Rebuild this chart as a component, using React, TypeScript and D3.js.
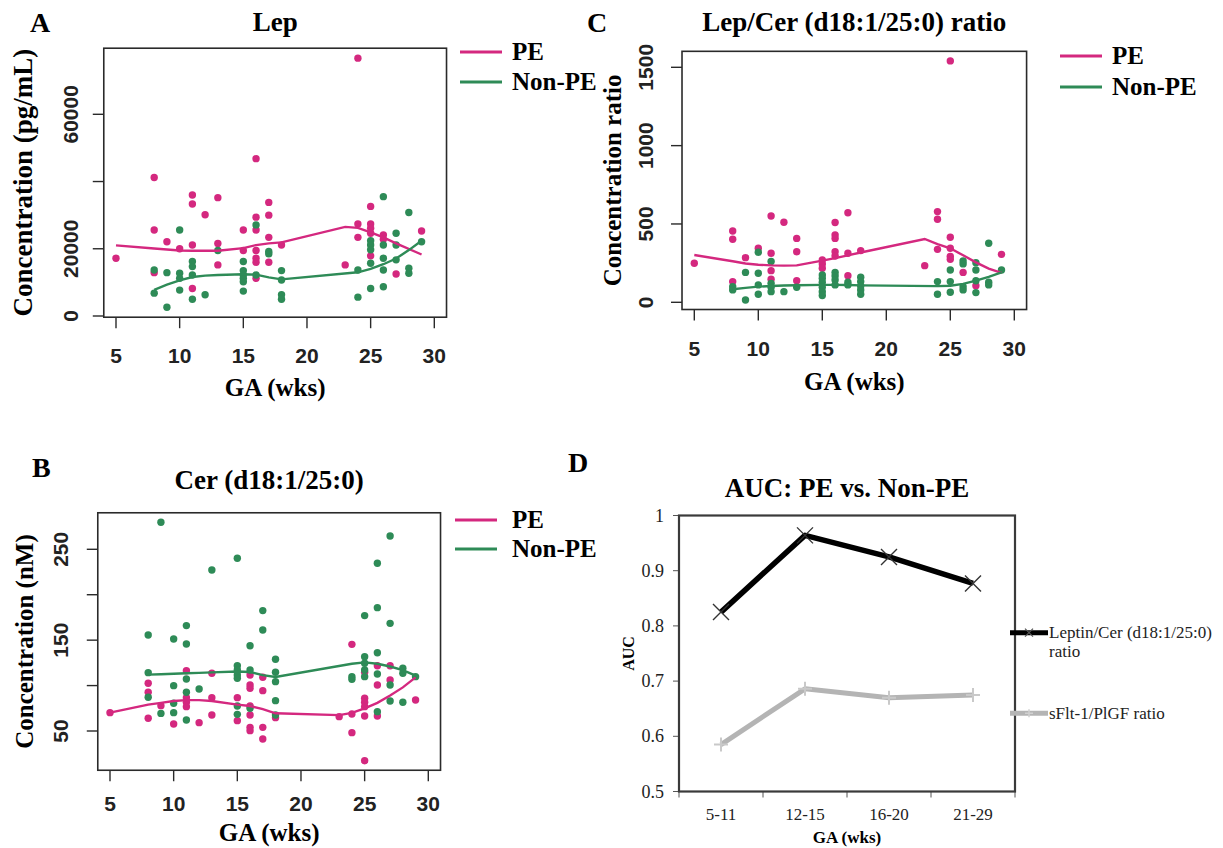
import React from 'react';
import * as d3 from 'd3';

type P = [number, number];

// ---------- DATA ----------
const gaTicks = [5, 10, 15, 20, 25, 30];

// Panel A: Lep (pg/mL)
const lepPE: P[] = [[5,17200],[8,41200],[8,25600],[8,12900],[9,22100],[10,20000],[11,36000],[11,33300],[11,21100],[11,8200],[12,30100],[13,35200],[13,21600],[13,15200],[15,25600],[15,19500],[16,46800],[16,29400],[16,25600],[16,19500],[16,17200],[16,16000],[16,11200],[17,33800],[17,30000],[17,23400],[17,16000],[18,21100],[23,15200],[24,76700],[24,27400],[24,23400],[25,32600],[25,27400],[25,26100],[25,24600],[25,17900],[26,24100],[26,22800],[27,12500],[29,25300]];
const lepNon: P[] = [[8,13700],[8,6800],[9,12900],[9,2600],[10,25600],[10,12700],[10,11200],[10,7700],[11,16200],[11,14700],[11,12200],[11,5000],[12,6300],[13,19500],[15,16200],[15,13500],[15,12200],[15,11200],[15,10200],[15,7400],[16,27100],[16,12200],[17,19200],[17,18500],[18,13500],[18,10700],[18,6300],[18,5000],[24,13700],[24,5600],[25,22400],[25,21100],[25,19700],[25,15700],[25,8200],[26,35500],[26,21100],[26,17200],[26,13700],[26,8700],[27,24600],[27,21100],[27,16700],[28,30800],[28,14200],[28,12700],[29,22100]];
const lepPEFit: P[] = [[5,21000],[8,20100],[10,19500],[11,19400],[13,19400],[15,20200],[16,21100],[17,21600],[18,21900],[23,26500],[24,26200],[25,24900],[26,23400],[27,21600],[29,18300]];
const lepNonFit: P[] = [[8,7800],[9,9300],[10,10600],[11,11600],[12,12000],[13,12200],[15,12400],[16,12300],[17,11500],[18,10900],[24,13000],[25,14000],[26,15400],[27,17100],[28,19600],[29,22400]];
const lepYTicks = [0, 20000, 40000, 60000];
const lepYLabels = ['0', '20000', '', '60000'];

// Panel B: Cer (d18:1/25:0) (nM)
const cerPE: P[] = [[5,70.2],[8,102.5],[8,92.6],[8,64],[9,77.9],[10,57.7],[11,116.4],[11,86.7],[11,81.6],[11,76.8],[12,59.2],[13,113.5],[13,86.7],[13,67.6],[15,86.7],[15,61.4],[16,111.7],[16,100.6],[16,97],[16,77.5],[16,67.6],[16,54],[16,50.4],[17,109.1],[17,94.4],[17,54],[17,41.2],[18,64.7],[23,65.8],[24,145.4],[24,68.7],[24,48.2],[25,114.6],[25,86],[25,81.6],[25,76.8],[25,66.5],[25,17.3],[26,121.9],[26,100.6],[26,66.5],[27,121.9],[27,106.1],[29,84.1]];
const cerNon: P[] = [[8,155.7],[8,114.2],[8,87.1],[9,279.7],[9,69.4],[10,151.3],[10,99.9],[10,80.5],[10,70.2],[11,166],[11,145.8],[11,107.2],[11,92.6],[11,62.1],[12,96.2],[13,227.2],[15,240.1],[15,121.9],[15,117.2],[15,111.7],[15,108],[15,77.5],[15,68.3],[16,143.9],[16,117.2],[16,75],[17,182.5],[17,161.2],[18,128.9],[18,114.6],[18,104.3],[18,83.4],[18,67.6],[24,109.8],[24,106.9],[25,177],[25,131.8],[25,124.5],[25,117.2],[25,109.8],[26,234.6],[26,185.8],[26,136.2],[26,112.8],[26,71.3],[27,264.7],[27,168.5],[27,100.6],[27,83],[28,119],[28,113.5],[28,81.6],[29,109.8]];
const cerPEFit: P[] = [[5,70.2],[8,79],[9,81],[10,83],[11,84],[12,84],[13,83],[15,79],[16,77.5],[17,74],[18,69.5],[23,67.5],[24,70],[25,75],[26,81],[27,89],[28,98],[29,109]];
const cerNonFit: P[] = [[8,112],[9,112.5],[10,113],[11,113.5],[12,114],[13,114.5],[15,115.5],[16,115],[17,111.5],[18,109.5],[24,124],[25,125.5],[26,124],[27,121],[28,117],[29,111]];
const cerYTicks = [50, 100, 150, 200, 250];
const cerYLabels = ['50', '', '150', '', '250'];

// Panel C: Lep/Cer ratio
const ratioPE: P[] = [[5,249],[8,455],[8,402],[8,132],[9,285],[10,345],[11,551],[11,313],[11,202],[11,147],[12,511],[13,408],[13,323],[13,138],[15,270],[15,245],[15,217],[16,509],[16,430],[16,408],[16,323],[16,296],[17,572],[17,313],[17,170],[18,330],[23,234],[24,579],[24,530],[24,338],[25,1541],[25,415],[25,345],[25,292],[25,274],[26,191],[27,106],[29,306]];
const ratioNon: P[] = [[8,100],[8,79],[9,191],[9,15],[10,319],[10,185],[10,111],[10,51],[11,260],[11,121],[11,96],[11,68],[12,68],[13,96],[15,174],[15,153],[15,128],[15,96],[15,68],[15,43],[16,191],[16,168],[16,143],[16,111],[17,128],[17,111],[18,160],[18,132],[18,104],[18,79],[18,51],[24,132],[24,51],[25,206],[25,132],[25,64],[26,264],[26,245],[26,100],[26,79],[27,253],[27,206],[27,138],[27,62],[28,377],[28,128],[28,111],[29,206]];
const ratioPEFit: P[] = [[5,302],[8,262],[9,248],[10,240],[11,236],[12,234],[13,236],[15,266],[16,282],[17,300],[18,318],[23,404],[24,372],[25,345],[26,300],[27,255],[28,215],[29,188]];
const ratioNonFit: P[] = [[8,83],[9,92],[10,100],[11,104],[12,107],[13,109],[15,111],[16,111],[17,110],[18,108],[24,103],[25,106],[26,118],[27,138],[28,162],[29,191]];
const ratioYTicks = [0, 500, 1000, 1500];
const ratioYLabels = ['0', '500', '1000', '1500'];

// Panel D: AUC
const gaGroups = ['5-11', '12-15', '16-20', '21-29'];
const aucLepCer = [0.825, 0.964, 0.925, 0.877];
const aucSflt = [0.585, 0.686, 0.67, 0.675];
const aucTicks = [0.5, 0.6, 0.7, 0.8, 0.9, 1];
const aucTickLabels = ['0.5', '0.6', '0.7', '0.8', '0.9', '1'];

// ---------- STYLE ----------
const PINK = '#d4287f';
const GREEN = '#2e8b57';
const SERIF = '"Liberation Serif", "Times New Roman", Times, serif';
const SANS = '"Liberation Sans", Arial, Helvetica, sans-serif';
const AX = '#2a2a2a';

interface ScatterProps {
  letter: string; letterX: number; letterY: number;
  title: string; titleY: number;
  xr: [number, number];
  yd: [number, number]; yr: [number, number]; yBox: [number, number];
  yTicks: number[]; yLabels: string[];
  yTickLabelX: number; yTitle: string; yTitleX: number; yTitleSize: number;
  xTickLabelY: number; xTitleY: number;
  legX: number; legTextX: number; legY1: number; legY2: number;
  pe: P[]; non: P[]; peFit: P[]; nonFit: P[];
}

function Scatter(p: ScatterProps) {
  const x = d3.scaleLinear().domain([5, 30]).range(p.xr);
  const y = d3.scaleLinear().domain(p.yd).range(p.yr);
  const x0 = x(4.04), x1 = x(30.96);
  const yTop = y(p.yBox[1]), yBot = y(p.yBox[0]);
  const cx = (x0 + x1) / 2, cy = (yTop + yBot) / 2;
  const line = d3.line<P>().x(d => x(d[0])).y(d => y(d[1]));
  const tick = 11;
  return (
    <g>
      <text x={p.letterX} y={p.letterY} fontFamily={SERIF} fontWeight="bold" fontSize={28}>{p.letter}</text>
      <text x={cx} y={p.titleY} textAnchor="middle" fontFamily={SERIF} fontWeight="bold" fontSize={27}>{p.title}</text>
      <rect x={x0} y={yTop} width={x1 - x0} height={yBot - yTop} fill="none" stroke={AX} strokeWidth={1.6} />
      {gaTicks.map(t => (
        <g key={'xt' + t}>
          <line x1={x(t)} x2={x(t)} y1={yBot} y2={yBot + tick} stroke={AX} strokeWidth={1.4} />
          <text x={x(t)} y={p.xTickLabelY} textAnchor="middle" fontFamily={SANS} fontWeight="bold" fontSize={21} fill="#222">{t}</text>
        </g>
      ))}
      {p.yTicks.map((t, i) => (
        <g key={'yt' + t}>
          <line x1={x0 - tick} x2={x0} y1={y(t)} y2={y(t)} stroke={AX} strokeWidth={1.4} />
          {p.yLabels[i] ? (
            <text transform={`translate(${p.yTickLabelX},${y(t)}) rotate(-90)`} textAnchor="middle" fontFamily={SANS} fontWeight="bold" fontSize={21} fill="#222">{p.yLabels[i]}</text>
          ) : null}
        </g>
      ))}
      <text x={cx} y={p.xTitleY} textAnchor="middle" fontFamily={SERIF} fontWeight="bold" fontSize={25}>GA (wks)</text>
      <text transform={`translate(${p.yTitleX},${cy}) rotate(-90)`} textAnchor="middle" fontFamily={SERIF} fontWeight="bold" fontSize={p.yTitleSize}>{p.yTitle}</text>
      {p.pe.map((d, i) => <circle key={'pe' + i} cx={x(d[0])} cy={y(d[1])} r={3.7} fill={PINK} />)}
      {p.non.map((d, i) => <circle key={'no' + i} cx={x(d[0])} cy={y(d[1])} r={3.7} fill={GREEN} />)}
      <path d={line(p.peFit) || ''} fill="none" stroke={PINK} strokeWidth={2.4} />
      <path d={line(p.nonFit) || ''} fill="none" stroke={GREEN} strokeWidth={2.4} />
      <line x1={p.legX} x2={p.legX + 42} y1={p.legY1} y2={p.legY1} stroke={PINK} strokeWidth={3} />
      <line x1={p.legX} x2={p.legX + 42} y1={p.legY2} y2={p.legY2} stroke={GREEN} strokeWidth={3} />
      <text x={p.legTextX} y={p.legY1 + 8} fontFamily={SERIF} fontWeight="bold" fontSize={25}>PE</text>
      <text x={p.legTextX} y={p.legY2 + 8} fontFamily={SERIF} fontWeight="bold" fontSize={25}>Non-PE</text>
    </g>
  );
}

function AucPanel() {
  const x = d3.scaleBand<string>().domain(gaGroups).range([679, 1015]);
  const y = d3.scaleLinear().domain([0.5, 1]).range([791.5, 515.5]);
  const bw = x.bandwidth();
  const cxOf = (g: string) => (x(g) as number) + bw / 2;
  const line = d3.line<[string, number]>().x(d => cxOf(d[0])).y(d => y(d[1]));
  const blackPts: [string, number][] = gaGroups.map((g, i) => [g, aucLepCer[i]]);
  const greyPts: [string, number][] = gaGroups.map((g, i) => [g, aucSflt[i]]);
  const [bx0, bx1] = x.range();
  const cross = (cx: number, cy: number, s: number) => `M${cx - s},${cy - s}L${cx + s},${cy + s}M${cx - s},${cy + s}L${cx + s},${cy - s}`;
  const plus = (cx: number, cy: number, s: number) => `M${cx},${cy - s}V${cy + s}M${cx - s},${cy}H${cx + s}`;
  const legY1 = 632.7, legY2 = 713.3, legX0 = 1010, legX1 = 1048;
  return (
    <g>
      <text x={568} y={472} fontFamily={SERIF} fontWeight="bold" fontSize={28}>D</text>
      <text x={(bx0 + bx1) / 2} y={497} textAnchor="middle" fontFamily={SERIF} fontWeight="bold" fontSize={27}>AUC: PE vs. Non-PE</text>
      {aucTicks.map((t, i) => (
        <g key={'at' + t}>
          <line x1={bx0 - 6} x2={bx0} y1={y(t)} y2={y(t)} stroke="#555" strokeWidth={1} />
          <text x={664} y={y(t) + 6} textAnchor="end" fontFamily={SERIF} fontSize={18} fill="#222">{aucTickLabels[i]}</text>
        </g>
      ))}
      {d3.range(gaGroups.length + 1).map(i => {
        const xx = bx0 + i * bw;
        return <line key={'bt' + i} x1={xx} x2={xx} y1={791.5} y2={797.5} stroke="#555" strokeWidth={1} />;
      })}
      {gaGroups.map(g => (
        <text key={'gl' + g} x={cxOf(g)} y={820} textAnchor="middle" fontFamily={SERIF} fontSize={17} fill="#222">{g}</text>
      ))}
      <text x={(bx0 + bx1) / 2} y={843} textAnchor="middle" fontFamily={SERIF} fontWeight="bold" fontSize={17}>GA (wks)</text>
      <text transform={`translate(634,${(515.5 + 791.5) / 2}) rotate(-90)`} textAnchor="middle" fontFamily={SERIF} fontWeight="bold" fontSize={16}>AUC</text>
      <rect x={bx0} y={515.5} width={bx1 - bx0} height={276} fill="none" stroke="#3a3a3a" strokeWidth={2.2} />
      <path d={line(greyPts) || ''} fill="none" stroke="#b4b4b4" strokeWidth={5} strokeLinejoin="round" />
      {greyPts.map((d, i) => <path key={'gp' + i} d={plus(cxOf(d[0]), y(d[1]), 7)} stroke="#c9c9c9" strokeWidth={2} />)}
      <path d={line(blackPts) || ''} fill="none" stroke="#000" strokeWidth={5.5} strokeLinejoin="round" />
      {blackPts.map((d, i) => <path key={'bp' + i} d={cross(cxOf(d[0]), y(d[1]), 8)} stroke="#333" strokeWidth={1.4} />)}
      <line x1={legX0} x2={legX1} y1={legY1} y2={legY1} stroke="#000" strokeWidth={5} />
      <path d={cross((legX0 + legX1) / 2, legY1, 4)} stroke="#555" strokeWidth={1.2} />
      <line x1={legX0} x2={legX1} y1={legY2} y2={legY2} stroke="#b4b4b4" strokeWidth={5} />
      <path d={plus((legX0 + legX1) / 2, legY2, 4)} stroke="#d0d0d0" strokeWidth={1.5} />
      <text x={legX1 + 1} y={legY1 + 5.5} fontFamily={SERIF} fontSize={17} fill="#222">Leptin/Cer (d18:1/25:0)</text>
      <text x={legX1 + 1} y={legY1 + 24} fontFamily={SERIF} fontSize={17} fill="#222">ratio</text>
      <text x={legX1 + 1} y={legY2 + 5.5} fontFamily={SERIF} fontSize={17} fill="#222">sFlt-1/PlGF ratio</text>
    </g>
  );
}

export default function App() {
  return (
    <svg width={1223} height={848} style={{ position: 'absolute', left: 0, top: 0, background: '#fff' }}>
      <rect x={0} y={0} width={1223} height={848} fill="#fff" />
      <Scatter
        letter="A" letterX={30} letterY={32}
        title="Lep" titleY={31}
        xr={[116, 434.3]}
        yd={[0, 60000]} yr={[316, 114.3]} yBox={[-360, 79660]}
        yTicks={lepYTicks} yLabels={lepYLabels}
        yTickLabelX={78} yTitle="Concentration (pg/mL)" yTitleX={32} yTitleSize={27}
        xTickLabelY={363} xTitleY={396}
        legX={460} legTextX={512} legY1={52} legY2={82}
        pe={lepPE} non={lepNon} peFit={lepPEFit} nonFit={lepNonFit}
      />
      <Scatter
        letter="C" letterX={587} letterY={32}
        title="Lep/Cer (d18:1/25:0) ratio" titleY={31}
        xr={[694.3, 1014.3]}
        yd={[0, 1500]} yr={[302.3, 67.3]} yBox={[-46, 1602]}
        yTicks={ratioYTicks} yLabels={ratioYLabels}
        yTickLabelX={653} yTitle="Concentration ratio" yTitleX={621} yTitleSize={25}
        xTickLabelY={356} xTitleY={390}
        legX={1060} legTextX={1112} legY1={56} legY2={87}
        pe={ratioPE} non={ratioNon} peFit={ratioPEFit} nonFit={ratioNonFit}
      />
      <Scatter
        letter="B" letterX={32} letterY={477}
        title="Cer (d18:1/25:0)" titleY={489}
        xr={[110, 428.3]}
        yd={[50, 250]} yr={[731, 549.3]} yBox={[6.8, 290.2]}
        yTicks={cerYTicks} yLabels={cerYLabels}
        yTickLabelX={68} yTitle="Concentration (nM)" yTitleX={33} yTitleSize={25}
        xTickLabelY={811} xTitleY={841}
        legX={455} legTextX={512} legY1={520} legY2={549}
        pe={cerPE} non={cerNon} peFit={cerPEFit} nonFit={cerNonFit}
      />
      <AucPanel />
    </svg>
  );
}
